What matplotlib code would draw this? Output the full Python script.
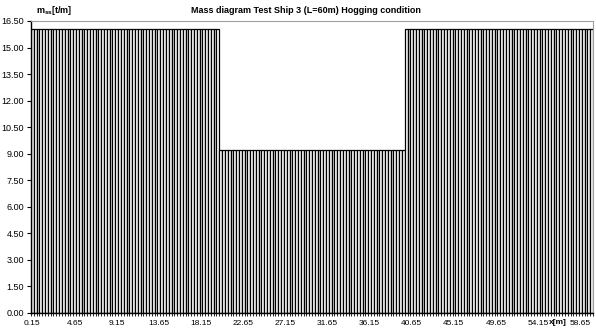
import numpy as np
import matplotlib.pyplot as plt

plt.rcParams['font.family'] = ['Liberation Sans', 'DejaVu Sans']
plt.rcParams['mathtext.fontset'] = 'custom'
plt.rcParams['mathtext.rm'] = 'Liberation Sans:bold'
plt.rcParams['mathtext.bf'] = 'Liberation Sans:bold'
plt.rcParams['mathtext.default'] = 'bf'

# stations (m) - centres des bandes de 0.3 m
largeur = 0.3
x = np.round(np.arange(200) * largeur + 0.15, 2)

# masse par metre (t/m) : avant / milieu / arriere
m_avant = [16.05] * 67
m_milieu = [9.2] * 66
m_arriere = [16.05] * 67
m_ss = np.array(m_avant + m_milieu + m_arriere)

fig = plt.figure(figsize=(5.96, 3.35), dpi=100)
ax = fig.add_axes([31 / 596, 22 / 335, 562 / 596, 292 / 335])

ax.bar(x, m_ss, width=largeur, facecolor='white', edgecolor='black', linewidth=0.9)

ax.set_xlim(0, 60)
ax.set_ylim(0, 16.5)

# axe y
yt = np.arange(0, 16.51, 1.5)
ax.set_yticks(yt)
ax.set_yticklabels(['%.2f' % v for v in yt])

# axe x : etiquettes toutes les 15 bandes, petits traits a chaque bande
ax.set_xticks(x[::15])
ax.set_xticklabels(['%.2f' % v for v in x[::15]])
ax.set_xticks(np.arange(0, 60.01, largeur), minor=True)
ax.tick_params(axis='x', which='major', length=0, pad=5, labelsize=6.0)
ax.tick_params(axis='x', which='minor', length=2.5, width=0.6, direction='out')
ax.tick_params(axis='y', length=3, width=0.8, pad=2, labelsize=6.5)

for s in ['top', 'right']:
    ax.spines[s].set_color('#a0a0a0')
    ax.spines[s].set_linewidth(0.8)
for s in ['left', 'bottom']:
    ax.spines[s].set_color('black')
    ax.spines[s].set_linewidth(1.0)

# titres
fig.text(0.513, 0.968, 'Mass diagram Test Ship 3 (L=60m) Hogging condition',
         ha='center', va='center', fontsize=6.5, fontweight='bold')
fig.text(36 / 596, 0.968, r'm$_{ss}$[t/m]', ha='left', va='center',
         fontsize=6.5, fontweight='bold')
ax.annotate('x[m]', xy=(56.22, 0), xycoords=('data', 'axes fraction'),
            xytext=(0, -7.2), textcoords='offset points',
            ha='center', va='center', fontsize=6.0, fontweight='bold')

plt.savefig('out.png', dpi=100)
